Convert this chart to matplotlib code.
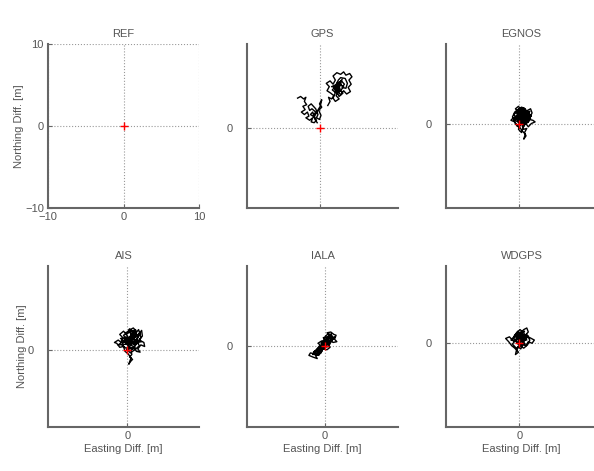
import numpy as np
import matplotlib
matplotlib.use('Agg')
import matplotlib.pyplot as plt

plt.rcParams['font.family'] = ['Liberation Sans', 'DejaVu Sans']

# panel titles and axis labels
titles = ['REF', 'GPS', 'EGNOS', 'AIS', 'IALA', 'WDGPS']
x_label = 'Easting Diff. [m]'
y_label = 'Northing Diff. [m]'

# position fix traces (easting, northing) in metres
gps_a = [(-3.0, 3.6), (-2.6, 3.8), (-2.2, 3.5), (-1.9, 3.7), (-2.1, 3.2), (-1.8, 2.8),
         (-2.3, 2.6), (-2.0, 2.2), (-2.5, 1.9), (-2.1, 1.6), (-1.7, 1.9), (-1.5, 1.4),
         (-1.9, 1.2), (-1.4, 0.9), (-1.0, 1.2), (-1.2, 0.7), (-0.8, 0.6), (-0.5, 0.9),
         (-0.9, 1.5), (-0.6, 1.9), (-1.1, 2.3), (-1.4, 2.1), (-1.6, 2.6), (-1.2, 2.9),
         (-0.9, 2.6), (-0.6, 2.3), (-0.3, 1.6), (-0.5, 1.2), (-0.1, 1.0), (0.1, 1.5),
         (-0.2, 2.1), (0.2, 2.5), (-0.1, 2.9), (0.2, 3.4), (0.0, 2.6), (-0.4, 2.0),
         (-0.8, 1.3), (-1.3, 1.6), (-1.0, 1.9), (-0.7, 1.0), (-0.4, 0.6)]
gps_b = [(1.0, 2.7), (1.3, 3.2), (1.1, 3.7), (1.5, 3.5), (1.8, 3.9), (1.4, 4.2),
         (0.9, 4.5), (1.2, 5.0), (0.8, 5.4), (1.3, 5.7), (1.7, 5.3), (2.0, 5.8),
         (1.7, 6.3), (2.2, 6.7), (2.7, 6.5), (3.1, 6.8), (3.4, 6.4), (3.9, 6.6),
         (4.2, 6.2), (3.8, 5.8), (4.1, 5.3), (3.7, 4.9), (4.0, 4.4), (3.5, 4.1),
         (3.1, 4.5), (2.7, 4.0), (2.4, 4.4), (2.1, 3.9), (2.5, 3.5), (2.0, 3.2),
         (1.7, 3.6), (2.2, 4.7), (2.6, 5.1), (2.2, 5.4), (2.8, 5.7), (3.2, 5.3),
         (2.9, 4.9), (3.4, 4.8), (3.6, 5.4), (3.3, 6.0), (2.7, 6.1), (2.4, 5.8),
         (1.9, 4.9), (1.6, 4.6), (2.0, 4.3), (2.6, 4.6), (3.0, 4.2), (2.5, 3.8),
         (2.1, 4.6), (2.4, 5.0), (2.0, 5.2), (1.5, 5.0), (2.3, 4.9), (2.8, 5.3),
         (2.1, 5.0), (2.6, 4.4), (3.1, 5.0), (2.4, 5.3), (1.9, 4.6), (2.9, 5.9),
         (2.2, 4.2), (2.6, 4.8)]
egnos = [(0.0, 0.0), (0.3, 0.6), (-0.2, 1.0), (0.4, 1.4), (0.1, 1.9), (0.6, 2.0),
         (0.9, 1.6), (0.5, 1.1), (1.0, 0.8), (1.4, 1.2), (1.1, 1.7), (1.5, 1.9),
         (1.7, 1.4), (1.3, 0.6), (1.8, 0.5), (2.1, 0.3), (1.6, 0.1), (1.2, -0.3),
         (0.8, 0.2), (0.4, -0.2), (0.6, -0.6), (1.0, -0.5), (0.7, -1.0), (0.9, -1.4),
         (0.6, -1.8), (0.8, -1.2), (0.4, -0.8), (0.1, -0.4), (-0.3, -0.2), (-0.6, 0.3),
         (-1.1, 0.5), (-0.8, 0.8), (-0.4, 0.6), (-0.7, 1.2), (-0.3, 1.6), (0.0, 1.3),
         (-0.5, 1.9), (-0.1, 2.2), (0.3, 1.7), (0.7, 1.3), (0.2, 0.9), (-0.2, 0.4),
         (0.5, 0.3), (0.9, 1.0), (1.3, 0.9), (0.8, 1.9), (0.3, 2.1), (-0.6, 1.5),
         (-0.9, 0.9), (-0.5, 0.1), (0.0, -0.3), (0.5, 0.5), (1.0, 0.2), (1.5, 0.7),
         (1.2, 1.4), (0.6, 1.6), (0.0, 0.7), (-0.4, 1.1), (0.2, 0.2), (-0.1, -0.6),
         (0.3, -1.0), (0.5, -0.4), (1.1, 0.5), (0.7, 0.8), (0.2, 1.4), (-0.2, 1.8),
         (0.4, 2.0), (1.0, 1.2), (0.6, 0.4), (0.0, 0.0), (0.2, 0.5), (0.8, 1.4),
         (1.2, 0.3), (0.4, 1.8), (-0.4, 1.4), (0.9, 0.5), (0.1, 1.6), (-0.7, 0.6),
         (0.6, -0.2), (1.4, 1.6), (0.5, 0.9), (-0.2, 1.3), (1.0, 1.5), (1.6, 1.0),
         (0.3, 0.1), (-0.3, 0.8), (0.7, 1.8), (1.1, 1.0), (0.2, 1.1), (-0.5, 0.7),
         (0.8, 0.0), (1.3, 0.4), (0.0, 1.8), (0.5, 0.7), (0.0, 0.0)]
ais = [(0.0, 0.0), (0.4, 0.5), (0.1, 1.2), (0.6, 1.8), (0.2, 2.4), (0.8, 2.7),
       (1.2, 2.3), (1.0, 1.6), (1.5, 1.9), (1.9, 2.4), (2.0, 1.7), (1.6, 1.2),
       (2.2, 0.9), (2.3, 0.4), (1.8, 0.6), (1.4, 0.1), (1.7, -0.3), (1.2, -0.2),
       (0.9, 0.4), (0.5, -0.1), (0.6, -0.6), (0.3, -0.9), (0.7, -1.2), (0.4, -1.5),
       (0.2, -1.8), (0.5, -1.0), (0.1, -0.5), (-0.3, -0.2), (-0.5, 0.4), (-1.0, 0.3),
       (-1.4, 0.8), (-1.7, 0.9), (-1.2, 1.2), (-0.8, 0.9), (-0.6, 1.5), (-1.0, 1.9),
       (-0.5, 2.3), (-0.1, 1.9), (0.3, 2.6), (0.7, 2.2), (0.3, 1.5), (0.9, 1.0),
       (1.3, 1.4), (1.1, 0.6), (0.6, 0.9), (0.0, 0.6), (-0.4, 1.0), (-0.2, 1.6),
       (0.5, 1.3), (1.0, 1.9), (1.5, 2.5), (1.8, 1.5), (1.3, 0.9), (0.8, 0.1),
       (0.3, 0.3), (-0.2, 0.2), (-0.7, 0.6), (-0.3, 1.3), (0.2, 0.9), (0.7, 1.6),
       (1.2, 1.1), (1.6, 0.5), (1.0, 0.0), (0.4, -0.4), (0.0, 0.0), (0.5, 2.0),
       (1.4, 1.6), (-0.9, 1.4), (0.8, 1.3), (1.9, 1.0), (0.2, 0.7), (-0.5, 1.8),
       (1.1, 2.5), (0.4, 1.0), (1.5, 0.8), (-1.2, 0.6), (0.0, 1.4), (1.7, 2.0),
       (0.9, 0.6), (-0.3, 2.1), (0.6, 2.4), (1.3, 1.8), (0.1, 1.0), (-0.8, 1.2),
       (1.0, 0.3), (0.0, 0.0)]
iala = [(0.0, 0.0), (-0.5, -0.3), (-0.9, -0.8), (-1.4, -1.0), (-1.9, -0.9), (-2.1, -1.2),
        (-1.6, -1.4), (-1.0, -1.6), (-1.3, -1.1), (-0.8, -1.2), (-0.4, -0.7), (-0.7, -0.3),
        (-1.1, -0.5), (-0.6, 0.1), (-0.9, 0.3), (-0.4, 0.6), (0.0, 0.4), (0.2, 0.9),
        (0.6, 1.3), (0.3, 1.6), (0.8, 1.7), (1.2, 1.4), (1.5, 1.3), (1.3, 0.8),
        (1.6, 0.5), (1.1, 0.4), (0.7, 0.7), (0.4, 0.2), (0.7, -0.2), (0.3, -0.5),
        (-0.2, -0.4), (-0.3, 0.2), (0.1, 0.6), (-0.2, 1.0), (0.4, 1.1), (0.9, 1.0),
        (1.3, 1.1), (0.9, 0.6), (0.5, -0.1), (0.0, -0.2), (-0.6, -0.6), (-1.2, -0.7),
        (-1.6, -1.1), (-1.0, -1.0), (-0.5, -0.9), (-0.2, -0.3), (0.2, 0.3), (0.6, 0.9),
        (1.0, 1.2), (0.5, 1.5), (0.1, 1.2), (-0.1, 0.7), (-0.5, 0.3), (-0.1, 0.0),
        (0.0, 0.0), (-0.3, 0.4), (0.5, 1.0), (1.0, 0.8), (-0.8, -0.4), (-1.5, -0.8),
        (0.2, 0.5), (0.8, 1.4), (-0.6, -0.2), (1.2, 0.9), (-1.1, -1.2), (0.4, 0.7),
        (-0.2, -0.1), (0.9, 1.5), (0.0, 0.0)]
wdgps = [(0.0, 0.0), (0.4, 0.6), (0.1, 1.2), (0.6, 1.7), (1.0, 1.9), (1.2, 1.4),
         (0.8, 1.0), (1.4, 0.7), (2.0, 0.4), (1.7, 0.0), (1.2, 0.2), (0.9, -0.3),
         (0.5, -0.2), (0.2, -0.7), (-0.2, -0.4), (-0.4, -1.0), (-0.5, -1.4), (-0.1, -1.1),
         (-0.6, -0.6), (-1.0, -0.3), (-1.4, 0.2), (-1.8, 0.6), (-1.3, 0.8), (-0.9, 0.4),
         (-0.6, 1.0), (-0.2, 1.5), (0.3, 1.1), (-0.1, 0.6), (0.5, 0.3), (0.9, 0.7),
         (0.6, 1.3), (0.1, 1.7), (-0.4, 1.2), (-0.8, 0.7), (-0.4, 0.2), (0.0, -0.3),
         (0.6, -0.6), (1.1, -0.2), (1.4, 0.4), (1.0, 1.1), (0.3, 0.9), (-0.3, 0.6),
         (-0.9, -0.1), (-0.3, -0.7), (0.3, -0.2), (0.0, 0.0), (0.5, 1.0), (-0.5, 0.8),
         (1.0, 0.4), (0.2, 1.4), (-1.1, 0.4), (0.8, -0.1), (-0.2, 0.9), (0.7, 1.5),
         (-0.7, 0.3), (1.2, 0.9), (0.1, -0.4), (-0.3, 1.2), (0.4, 0.4), (0.0, 0.0)]

traces = [[], [gps_a, gps_b], [egnos], [ais], [iala], [wdgps]]

# axis limits per panel (only REF shows the +-10 ticks)
xlims = [(-10, 10), (-9.7, 10.3), (-9.7, 10.3), (-10.5, 9.5), (-10.3, 9.7), (-9.7, 10.3)]
ylims = [(-10, 10), (-9.8, 10.2), (-10.2, 9.8), (-9.6, 10.4), (-10.1, 9.9), (-10.4, 9.6)]

fig = plt.figure(figsize=(5.94, 4.71), dpi=100)
txt = '#555555'
lefts = [48, 247, 446]
tops = [44, 266]
heights = [164, 161]

for i, name in enumerate(titles):
    r, c = divmod(i, 3)
    ax = fig.add_axes([lefts[c] / 594, (471 - tops[r] - heights[r]) / 471,
                       151 / 594, heights[r] / 471])
    for tr in traces[i]:
        pts = np.array(tr)
        ax.plot(pts[:, 0], pts[:, 1], color='black', lw=1.0)
    ax.plot(0, 0, '+', color='red', ms=6, mew=1)
    ax.set_xlim(xlims[i])
    ax.set_ylim(ylims[i])
    if i == 0:
        ax.set_xticks([-10, 0, 10])
        ax.set_yticks([-10, 0, 10])
        ypad = 3
    else:
        ax.set_xticks([0])
        ax.set_yticks([0])
        ypad = 10
    if 0 < i < 3:
        ax.set_xticklabels([''])
    ax.grid(True, linestyle=':', color='#999999', lw=0.8)
    ax.set_axisbelow(True)
    for s in ['top', 'right']:
        ax.spines[s].set_visible(False)
    for s in ['left', 'bottom']:
        ax.spines[s].set_color('#666666')
        ax.spines[s].set_linewidth(1.5)
    ax.tick_params(direction='in', length=3, colors='#666666', labelcolor=txt,
                   labelsize=8, pad=3)
    ax.tick_params(axis='y', pad=ypad)
    ax.set_title(name, fontsize=8, color=txt, pad=5)
    if c == 0:
        ax.set_ylabel(y_label, fontsize=8, color=txt, labelpad=1)
    if r == 1:
        ax.set_xlabel(x_label, fontsize=8, color=txt, labelpad=2)

fig.savefig('out.png', dpi=100)
